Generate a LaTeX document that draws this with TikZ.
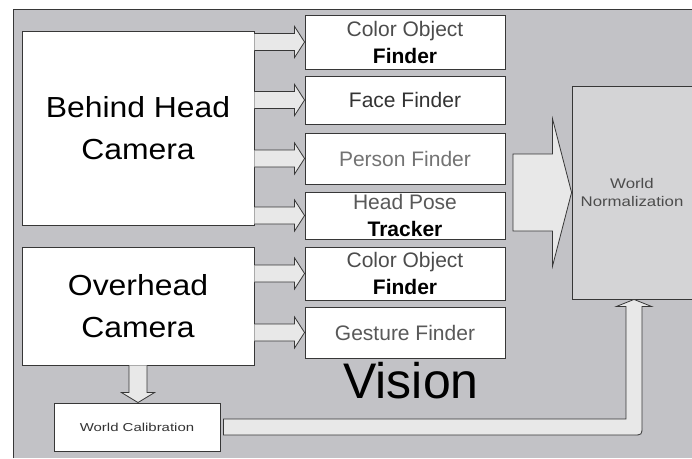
\documentclass[tikz,border=0pt]{standalone}
\usepackage{fontspec}
\setmainfont{Liberation Sans}
\newfontfamily\camfont[FakeStretch=1.1]{Liberation Sans}
\newfontfamily\normfont[FakeStretch=1.2]{Liberation Sans}
\newfontfamily\califont[FakeStretch=1.3]{Liberation Sans}
\usetikzlibrary{calc}

\definecolor{panelgray}{RGB}{194,194,198}
\definecolor{normgray}{RGB}{212,212,214}
\definecolor{arrowfill}{RGB}{232,232,232}
\definecolor{edgegray}{RGB}{55,55,55}

\tikzset{
    unitbox/.style={draw=edgegray, line width=0.9pt, fill=white, inner sep=0pt, align=center},
    finderbox/.style={unitbox, minimum width=200pt, font=\fontsize{21}{27}\selectfont},
    camerabox/.style={unitbox, minimum width=232pt, font=\camfont\fontsize{29}{42}\selectfont},
    fatarrow/.style={fill=arrowfill, draw=edgegray, line width=0.8pt}
}

\begin{document}
\begin{tikzpicture}[x=1pt, y=-1pt]
    \useasboundingbox (0,0) rectangle (692,458);

    % Draw the grey panel
    \fill[panelgray] (13,9) rectangle (692,458);
    \draw[edgegray, line width=0.8pt] (13,458) -- (13,9) -- (692,9);

    % Cameras
    \node[camerabox, minimum height=194pt] (bhc) at (138,128) {Behind Head\\Camera};
    \node[camerabox, minimum height=118pt] (ohc) at (138,306) {Overhead\\Camera};

    % Finders and trackers
    \node[finderbox, minimum height=54pt] (cof1) at (405,42)
        {\textcolor{black!70}{Color Object}\\\textbf{Finder}};
    \node[finderbox, minimum height=48pt, text=black!80] (face) at (405,100) {Face Finder};
    \node[finderbox, minimum height=51pt, text=black!55] (person) at (405,158.5) {Person Finder};
    \node[finderbox, minimum height=47pt] (pose) at (405,215.5)
        {\textcolor{black!65}{Head Pose}\\\textbf{Tracker}};
    \node[finderbox, minimum height=53pt] (cof2) at (405,273.5)
        {\textcolor{black!70}{Color Object}\\\textbf{Finder}};
    \node[finderbox, minimum height=51pt, text=black!65] (gesture) at (405,332.5) {Gesture Finder};

    % World boxes
    \node[unitbox, fill=normgray, minimum width=120pt, minimum height=213pt, text=black!70,
        font=\normfont\fontsize{14}{18}\selectfont] (norm) at (632,192.5) {World\\Normalization};
    \node[unitbox, minimum width=166pt, minimum height=48pt, text=black!80,
        font=\califont\fontsize{11.5}{14}\selectfont] (wcal) at (137,427) {World Calibration};

    \node[anchor=base, font=\fontsize{50}{60}\selectfont] (vision) at (411,398) {Vision};

    % Draw the small arrows into the finders
    \foreach \src/\dst in {bhc/cof1, bhc/face, bhc/person, bhc/pose, ohc/cof2, ohc/gesture} {
        \filldraw[fatarrow] let \p1=(\src.east), \p2=(\dst.west) in
            (\x1,\y2+8.5pt) -- (\x2-10pt,\y2+8.5pt) -- (\x2-10pt,\y2+15.5pt) -- (\x2,\y2)
            -- (\x2-10pt,\y2-15.5pt) -- (\x2-10pt,\y2-8.5pt) -- (\x1,\y2-8.5pt);
    }

    % Big arrow into the normalization
    \coordinate (bigtail) at (513,192.5);
    \filldraw[fatarrow] let \p1=(bigtail), \p2=(norm.west) in
        (\x1,\y2+38.5pt) -- (\x2-19pt,\y2+38.5pt) -- (\x2-19pt,\y2+73.5pt) -- (\x2,\y2)
        -- (\x2-19pt,\y2-73.5pt) -- (\x2-19pt,\y2-38.5pt) -- (\x1,\y2-38.5pt) -- cycle;

    % Camera to calibration
    \filldraw[fatarrow] let \p1=(ohc.south), \p2=(wcal.north) in
        (\x1-9pt,\y1) -- (\x1-9pt,\y2+10pt) -- (\x1-16.5pt,\y2+10pt) -- (\x1,\y2)
        -- (\x1+16.5pt,\y2+10pt) -- (\x1+9pt,\y2+10pt) -- (\x1+9pt,\y1);

    % Calibration back up to the normalization
    \filldraw[fatarrow] let \p1=(wcal.east), \p2=(norm.south) in
        (\x1+3pt,\y1+8pt) -- (\x2-6pt,\y1+8pt) -- (\x2-6pt,\y2-7pt) -- (\x2-15.5pt,\y2-7pt)
        -- (\x2+2pt,\y2) -- (\x2+19.5pt,\y2-7pt) -- (\x2+10pt,\y2-7pt) -- (\x2+10pt,\y1+1pt)
        .. controls (\x2+10pt,\y1-8pt) .. (\x2+1pt,\y1-8pt) -- (\x1+3pt,\y1-8pt) -- cycle;

\end{tikzpicture}
\end{document}
